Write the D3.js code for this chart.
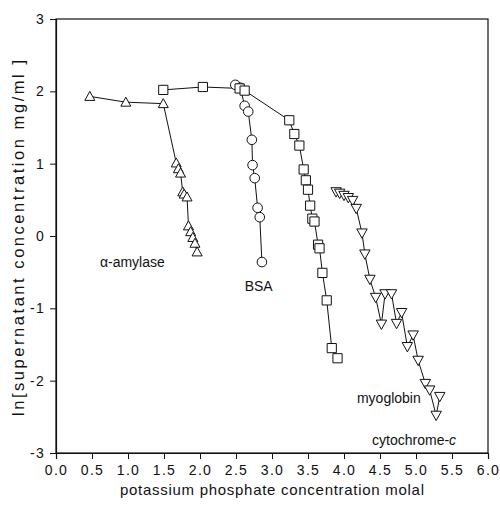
<!DOCTYPE html>
<html>
<head>
<meta charset="utf-8">
<script src="https://cdn.jsdelivr.net/npm/d3@7"></script>
<style>
  body { margin: 0; background: #fff; }
  text { font-family: "Liberation Sans", Arial, sans-serif; fill: #111; }
</style>
</head>
<body>
<svg id="chart" width="500" height="522"></svg>
<script>
// Axis ticks
const xTicks = [0, 0.5, 1, 1.5, 2, 2.5, 3, 3.5, 4, 4.5, 5, 5.5, 6];
const yTicks = [-3, -2, -1, 0, 1, 2, 3];

// Solubility curves: [molality, ln(concentration)]
const amylase = [
  [0.47, 1.93], [0.97, 1.85], [1.49, 1.83], [1.67, 1.01], [1.70, 0.93], [1.73, 0.87],
  [1.76, 0.61], [1.78, 0.58], [1.82, 0.54], [1.84, 0.14], [1.87, 0.06],
  [1.90, -0.02], [1.93, -0.10], [1.96, -0.22]
];
const bsa = [
  [2.49, 2.09], [2.56, 2.05], [2.62, 1.80], [2.67, 1.72], [2.72, 1.33], [2.73, 0.98],
  [2.76, 0.80], [2.80, 0.39], [2.83, 0.26], [2.86, -0.36]
];
const myoglobin = [
  [1.49, 2.02], [2.04, 2.06], [2.55, 2.04], [2.62, 2.01], [3.24, 1.60], [3.31, 1.41],
  [3.38, 1.25], [3.44, 0.92], [3.47, 0.77], [3.50, 0.64], [3.53, 0.42], [3.56, 0.24],
  [3.59, 0.20], [3.64, -0.12], [3.66, -0.17], [3.70, -0.51], [3.76, -0.89],
  [3.83, -1.55], [3.91, -1.69]
];
const cytochrome = [
  [3.89, 0.61], [3.94, 0.59], [4.00, 0.56], [4.06, 0.53], [4.12, 0.49], [4.17, 0.38],
  [4.25, 0.04], [4.29, -0.25], [4.36, -0.60], [4.44, -0.85], [4.52, -1.22],
  [4.57, -0.80], [4.66, -0.80], [4.73, -1.21], [4.80, -1.06], [4.88, -1.53],
  [4.96, -1.37], [5.03, -1.72], [5.13, -2.04], [5.19, -2.13], [5.28, -2.48],
  [5.33, -2.22]
];

const svg = d3.select("#chart");
const margin = { left: 56, right: 12, top: 19, bottom: 69 };
const W = 500, H = 522;
const x = d3.scaleLinear().domain([0, 6]).range([margin.left, W - margin.right]);
const y = d3.scaleLinear().domain([-3, 3]).range([H - margin.bottom, margin.top]);

const ink = "#111";

// Frame
svg.append("rect")
  .attr("x", x(0)).attr("y", y(3))
  .attr("width", x(6) - x(0)).attr("height", y(-3) - y(3))
  .attr("fill", "none").attr("stroke", ink).attr("stroke-width", 1.2);

// Axes
const xAxis = svg.append("g")
  .attr("transform", `translate(0,${y(-3)})`)
  .call(d3.axisBottom(x).tickValues(xTicks).tickFormat(d3.format(".1f")).tickSize(6).tickPadding(6));
const yAxis = svg.append("g")
  .attr("transform", `translate(${x(0)},0)`)
  .call(d3.axisLeft(y).tickValues(yTicks).tickFormat(d => d < 0 ? "-" + Math.abs(d) : String(d)).tickSize(6).tickPadding(5));

[xAxis, yAxis].forEach(g => {
  g.select(".domain").attr("stroke", ink).attr("stroke-width", 1.2);
  g.selectAll(".tick line").attr("stroke", ink).attr("stroke-width", 1);
  g.selectAll(".tick text")
    .attr("fill", ink)
    .style("font-family", '"Liberation Sans", Arial, sans-serif')
    .style("font-size", "14px")
    .style("letter-spacing", "1.3px");
});

// Axis titles
svg.append("text")
  .attr("x", (x(0) + x(6)) / 2).attr("y", 495)
  .attr("text-anchor", "middle")
  .attr("textLength", 304).attr("lengthAdjust", "spacing")
  .style("font-size", "15px")
  .text("potassium phosphate concentration molal");

svg.append("text")
  .attr("transform", `translate(24,${(y(-3) + y(3)) / 2 + 2}) rotate(-90)`)
  .attr("text-anchor", "middle")
  .attr("textLength", 356).attr("lengthAdjust", "spacing")
  .style("font-size", "16.5px")
  .text("ln[supernatant concentration mg/ml ]");

// Marker shapes, centred on the data point
const triUp = s => `M0,${-s}L${s},${s * 0.8}L${-s},${s * 0.8}Z`;
const triDown = s => `M0,${s}L${s},${-s * 0.8}L${-s},${-s * 0.8}Z`;
const square = s => `M${-s},${-s}H${s}V${s}H${-s}Z`;
const circlePath = s => `M${s},0A${s},${s} 0 1,1 ${-s},0A${s},${s} 0 1,1 ${s},0Z`;

const series = [
  { data: amylase, shape: triUp(5) },
  { data: bsa, shape: circlePath(4.8) },
  { data: myoglobin, shape: square(4.6) },
  { data: cytochrome, shape: triDown(5.2) }
];

const line = d3.line().x(d => x(d[0])).y(d => y(d[1]));

series.forEach(s => {
  svg.append("path")
    .attr("d", line(s.data))
    .attr("fill", "none").attr("stroke", ink).attr("stroke-width", 1);
});
series.forEach(s => {
  svg.append("g").selectAll("path")
    .data(s.data).join("path")
    .attr("transform", d => `translate(${x(d[0])},${y(d[1])})`)
    .attr("d", s.shape)
    .attr("fill", "#fff").attr("stroke", ink).attr("stroke-width", 1);
});

// Curve labels
const lab = (mx, my, str) => svg.append("text")
  .attr("x", x(mx)).attr("y", y(my))
  .style("font-size", "14px")
  .text(str);
lab(0.61, -0.43, "α-amylase");
lab(2.62, -0.76, "BSA");
lab(4.18, -2.31, "myoglobin");
const cy = lab(4.39, -2.89, "");
cy.append("tspan").text("cytochrome-");
cy.append("tspan").style("font-style", "italic").text("c");
</script>
</body>
</html>
